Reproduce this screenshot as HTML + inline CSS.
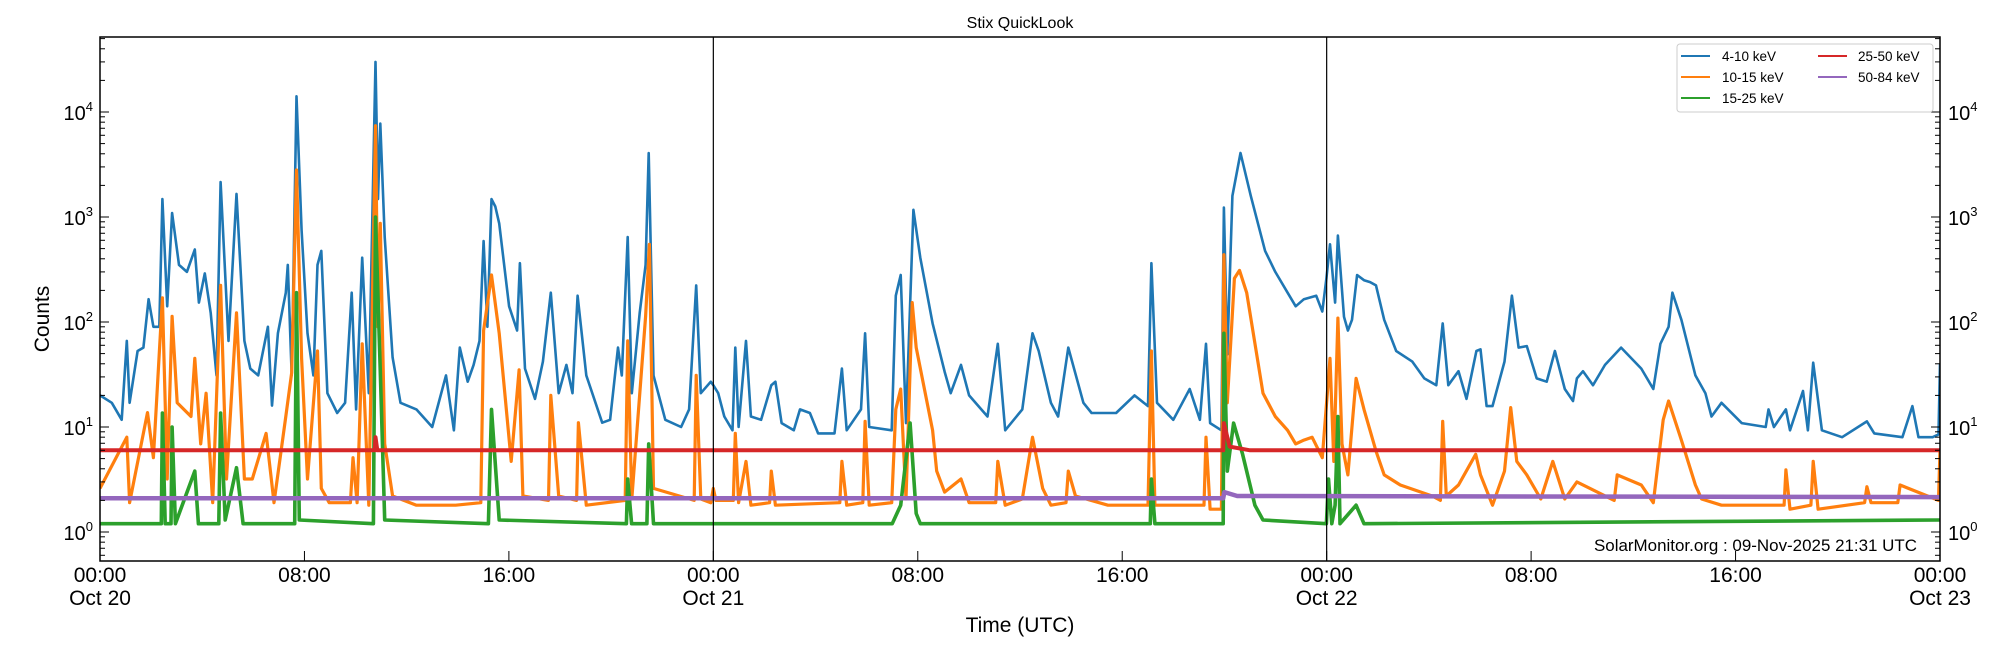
<!DOCTYPE html>
<html><head><meta charset="utf-8"><style>
html,body{margin:0;padding:0;background:#fff;}
svg{display:block;font-family:"Liberation Sans",sans-serif;}
</style></head><body>
<svg id="chart" width="2000" height="650" viewBox="0 0 2000 650" xmlns="http://www.w3.org/2000/svg">
<defs><clipPath id="pc"><rect x="100" y="37" width="1840" height="524"/></clipPath></defs>
<rect width="2000" height="650" fill="#fff"/>
<text x="1020" y="28" font-size="16" text-anchor="middle">Stix QuickLook</text>
<g id="series" clip-path="url(#pc)"></g>
<g id="axes"></g>
<rect x="100" y="37" width="1840" height="524" fill="none" stroke="#000" stroke-width="1.5"/>
<text x="1020" y="632" font-size="21" text-anchor="middle">Time (UTC)</text>
<text x="0" y="0" font-size="21" text-anchor="middle" transform="translate(49,319) rotate(-90)">Counts</text>
<text x="1594" y="551" font-size="17" textLength="323" lengthAdjust="spacingAndGlyphs">SolarMonitor.org : 09-Nov-2025 21:31 UTC</text>
<g>
<rect x="1677" y="44" width="256" height="68" rx="3" fill="#fff" fill-opacity="0.8" stroke="#ccc"/>
<line x1="1681" y1="56" x2="1710" y2="56" stroke="#1f77b4" stroke-width="2"/><text x="1722" y="61" font-size="13.5">4-10 keV</text>
<line x1="1681" y1="77" x2="1710" y2="77" stroke="#ff7f0e" stroke-width="2"/><text x="1722" y="82" font-size="13.5">10-15 keV</text>
<line x1="1681" y1="98" x2="1710" y2="98" stroke="#2ca02c" stroke-width="2"/><text x="1722" y="103" font-size="13.5">15-25 keV</text>
<line x1="1818" y1="56" x2="1847" y2="56" stroke="#d62728" stroke-width="2"/><text x="1858" y="61" font-size="13.5">25-50 keV</text>
<line x1="1818" y1="77" x2="1847" y2="77" stroke="#9467bd" stroke-width="2"/><text x="1858" y="82" font-size="13.5">50-84 keV</text>
</g>
</svg>
<script>
const blueT=[0,0.46,0.85,1.05,1.16,1.47,1.70,1.90,2.09,2.32,2.44,2.63,2.82,3.09,3.40,3.71,3.87,4.10,4.33,4.56,4.72,5.03,5.34,5.65,5.88,6.19,6.57,6.73,6.96,7.27,7.35,7.50,7.69,7.89,8.12,8.35,8.51,8.66,8.90,9.28,9.59,9.85,10.02,10.26,10.52,10.78,10.88,10.97,11.14,11.45,11.76,12.38,13.0,13.54,13.85,14.08,14.39,14.62,14.85,15.01,15.16,15.32,15.47,15.62,16.01,16.32,16.43,16.63,17.02,17.33,17.64,17.95,18.25,18.49,18.69,19.03,19.65,19.96,20.27,20.42,20.65,20.81,21.12,21.35,21.47,21.66,22.12,22.74,23.05,23.33,23.51,23.90,
24.0,24.19,24.43,24.75,24.86,24.99,25.28,25.47,25.87,26.27,26.43,26.67,27.15,27.39,27.78,28.10,28.74,29.03,29.22,29.78,29.94,30.10,30.98,31.14,31.33,31.54,31.83,32.10,32.58,33.05,33.29,33.69,34.01,34.73,35.13,35.42,36.09,36.49,36.73,37.21,37.49,37.89,38.48,38.80,39.76,40.48,41.01,41.14,41.36,42.00,42.64,43.04,43.28,43.44,43.88,43.98,44.11,44.31,44.63,45.03,45.59,45.99,46.47,46.79,47.11,47.59,47.83,47.99,
48.13,48.33,48.44,48.68,48.83,48.99,49.19,49.46,49.70,49.93,50.25,50.72,51.35,51.82,52.29,52.54,52.76,53.16,53.47,53.86,54.02,54.26,54.49,54.96,55.25,55.51,55.83,56.22,56.61,56.93,57.32,57.64,57.79,58.03,58.42,58.89,59.52,60.31,60.78,61.06,61.38,61.53,61.88,62.43,62.82,63.06,63.45,64.24,65.18,65.29,65.50,65.97,66.13,66.64,66.83,67.04,67.38,68.17,69.14,69.43,70.53,70.92,71.16,71.71,71.94,72];
const blueV=[20,17,11.7,66,17,53,57,165,90,90,1480,141,1090,350,300,490,153,290,122,31,2150,66,1660,66,36,31,90,16,78,190,350,31,14100,745,78,31,350,475,21,13.6,17,190,14.7,410,21,30000,1480,7750,645,46,17,14.7,10,31,9.3,57,27,39,66,590,90,1480,1260,870,141,83,363,36,18.5,42,190,21,39,21,178,31,11,11.7,57,31,645,21,122,350,4070,31,11.7,10,14.7,223,21,27,
25,21,12.6,9.3,57,10,66,12.6,11.7,25,27,10.9,9.3,14.7,13.6,8.7,8.7,36,9.3,14.7,78,10,9.3,178,280,10.9,1170,410,97,33.7,21,39,20,12.6,62,9.3,14.7,78,53,17,12.6,57,17,13.6,13.6,20,15.8,363,17,11.7,23,11.7,62,10.9,9.3,1230,49,1590,4070,1590,475,300,190,141,165,178,126,260,
550,153,665,112,83,105,280,250,240,223,105,53,42,29,25,97,25,34,18.5,53,55,15.8,15.8,42,178,57,59,29,27,53,23,17.7,29,34,25,39,57,36,23,62,90,190,105,31,21,12.6,17,10.9,10,14.7,10,14.7,9.3,22,9.3,41,9.3,8,11.3,8.7,8,15.8,8,8,8.5,40];
const orangeT=[0,1.05,1.16,1.86,2.09,2.44,2.63,2.82,3.02,3.56,3.71,3.94,4.15,4.41,4.72,4.95,5.34,5.65,5.96,6.50,6.81,7.27,7.50,7.69,7.89,8.12,8.51,8.66,8.97,9.8,9.90,10.06,10.26,10.52,10.78,10.88,10.97,11.14,11.45,12.38,13.92,14.9,15.01,15.32,15.62,16.09,16.40,16.55,17.55,17.64,17.95,18.65,18.72,19.03,20.55,20.65,20.81,21.35,21.50,21.66,23.25,23.33,23.51,23.90,
24.0,24.1,24.78,24.86,24.99,25.28,25.47,26.2,26.27,26.43,28.95,29.03,29.22,29.85,29.94,30.10,30.98,31.14,31.33,31.54,31.78,31.94,32.58,32.74,33.05,33.69,34.01,35.05,35.13,35.42,36.09,36.49,36.89,37.21,37.8,37.89,38.17,39.44,41.01,41.14,41.28,43.2,43.28,43.44,43.88,43.98,44.11,44.39,44.59,44.87,45.51,45.99,46.47,46.79,47.11,47.43,47.83,48.07,
48.13,48.28,48.44,48.60,48.83,49.15,49.46,49.93,50.25,50.88,52.13,52.45,52.54,52.68,53.16,53.83,54.02,54.49,54.96,55.20,55.44,55.83,56.38,56.85,57.32,57.79,59.25,59.37,60.31,60.78,61.17,61.38,61.88,62.43,62.67,63.45,65.9,65.97,66.13,66.95,67.04,67.23,69.05,69.14,69.3,70.35,70.44,71.94,72];
const orangeV=[2.6,8,1.9,13.7,5.1,170,3.2,113,17,12.6,45,6.9,21,1.9,223,3.2,122,3.2,3.2,8.7,1.9,12.6,33,2800,45,3.2,53,2.6,1.9,1.9,5.1,1.9,62,1.8,7400,90,870,6.9,2.2,1.8,1.8,1.9,83,280,78,4.7,35,2.2,2.0,20,2.2,2.0,11,1.8,2.0,66,2.06,113,550,2.6,2.0,31,2.06,1.9,
2.6,2.0,2.0,8.7,1.9,4.7,1.8,1.9,3.8,1.8,1.9,4.7,1.8,1.9,11.3,1.8,1.9,14.7,23,2.06,153,57,9.3,3.8,2.4,3.2,1.9,1.9,4.7,1.8,2.06,8,2.6,1.8,1.9,3.8,2.2,1.8,1.8,53,1.8,1.8,8,1.65,1.65,437,17,260,310,190,21,12.6,9.3,6.9,7.5,8,5.1,29,
45,4.7,109,6.9,3.5,29,14.7,5.9,3.5,2.8,2.2,2.0,11.3,2.2,2.8,5.5,3.5,1.8,3.8,15.3,4.7,3.5,2.06,4.7,2.06,3.0,2.0,3.5,2.8,1.9,11.7,17.7,7.5,2.8,2.06,1.8,1.8,3.9,1.65,1.8,4.7,1.65,1.9,2.7,1.9,1.9,2.8,2.0,6];
const greenT=[0,2.40,2.44,2.55,2.78,2.82,2.95,3.71,3.85,4.65,4.72,4.9,5.34,5.6,7.62,7.69,7.80,10.70,10.78,10.97,11.14,15.2,15.32,15.62,20.6,20.65,20.8,21.40,21.47,21.66,31.0,31.33,31.70,31.94,32.10,41.10,41.14,41.28,43.95,43.98,44.11,44.36,44.71,45.19,45.51,47.99,48.07,48.2,48.33,48.44,48.52,49.15,49.46,72];
const greenV=[1.2,1.2,13.6,1.2,1.2,10,1.2,3.8,1.2,1.2,13.6,1.3,4.1,1.2,1.2,190,1.3,1.2,1000,33.7,1.3,1.2,14.7,1.3,1.2,3.2,1.2,1.2,6.9,1.2,1.2,1.8,10.9,1.5,1.2,1.2,3.2,1.2,1.2,78,3.8,10.9,5.5,1.8,1.3,1.2,3.2,1.2,1.8,12.6,1.2,1.8,1.2,1.3];
const redT=[0,10.75,10.78,10.85,43.95,43.98,44.2,45,72];
const redV=[6,6,8,6,6,10.9,6.5,6,6];
const purpleT=[0,43.95,44.0,44.5,72];
const purpleV=[2.1,2.1,2.4,2.2,2.15];
const yTickExp=[0,1,2,3,4];
const xTickHours=[0,8,16,24,32,40,48,56,64,72];
const xTickTime=["00:00","08:00","16:00","00:00","08:00","16:00","00:00","08:00","16:00","00:00"];
const xTickDate=["Oct 20","","","Oct 21","","","Oct 22","","","Oct 23"];
const dayLines=[24,48];

const X0=100,X1=1940,Y0=37,Y1=561;
const xs=h=>X0+(X1-X0)*h/72;
const ys=v=>532-105*Math.log10(v);
const NS="http://www.w3.org/2000/svg";
const ser=document.getElementById('series'), ax=document.getElementById('axes');
function mk(tag,attrs,parent){const e=document.createElementNS(NS,tag);for(const k in attrs)e.setAttribute(k,attrs[k]);parent.appendChild(e);return e;}

dayLines.forEach(h=>{
  const l=mk('line',{x1:xs(h),x2:xs(h),y1:Y0,y2:Y1,stroke:'#000','stroke-width':1.2},ax);
  
  
});
function drawSeries(T,V,color,w,name){
  const d=T.map((t,i)=>(i?'L':'M')+xs(t).toFixed(1)+','+ys(V[i]).toFixed(1)).join('');
  const p=mk('path',{d:d,fill:'none',stroke:color,'stroke-width':w,'stroke-linejoin':'round'},ser);
  
  
}
drawSeries(blueT,blueV,'#1f77b4',2.6,'series-4-10-kev');
drawSeries(orangeT,orangeV,'#ff7f0e',3.2,'series-10-15-kev');
drawSeries(greenT,greenV,'#2ca02c',3.6,'series-15-25-kev');
drawSeries(redT,redV,'#d62728',4,'series-25-50-kev');
drawSeries(purpleT,purpleV,'#9467bd',4.5,'series-50-84-kev');

for(let e=-1;e<=4;e++){for(let m=1;m<=9;m++){
  const v=m*Math.pow(10,e); const y=ys(v); if(y<Y0||y>Y1)continue;
  const L=m===1?9:5;
  mk('line',{x1:X0,x2:X0+L,y1:y,y2:y,stroke:'#000','stroke-width':1},ax);
  mk('line',{x1:X1-L,x2:X1,y1:y,y2:y,stroke:'#000','stroke-width':1},ax);
}}
yTickExp.forEach(e=>{
  const y=ys(Math.pow(10,e));
  const t=mk('text',{x:93,y:y+8,'font-size':20,'text-anchor':'end'},ax);
  
  
  t.innerHTML='10<tspan dy="-9" font-size="13">'+e+'</tspan>';
  const t2=mk('text',{x:1948,y:y+8,'font-size':20},ax);
  
  
  t2.innerHTML='10<tspan dy="-9" font-size="13">'+e+'</tspan>';
});
xTickHours.forEach((h,i)=>{
  const x=xs(h);
  mk('line',{x1:x,x2:x,y1:Y1-10,y2:Y1,stroke:'#000','stroke-width':1},ax);
  const t=mk('text',{x:x,y:582,'font-size':21,'text-anchor':'middle'},ax);
  
  
  t.textContent=xTickTime[i];
  if(xTickDate[i]){
    const d=mk('text',{x:x,y:605,'font-size':21,'text-anchor':'middle'},ax);
    
    
    d.textContent=xTickDate[i];
  }
});
</script>
</body></html>
